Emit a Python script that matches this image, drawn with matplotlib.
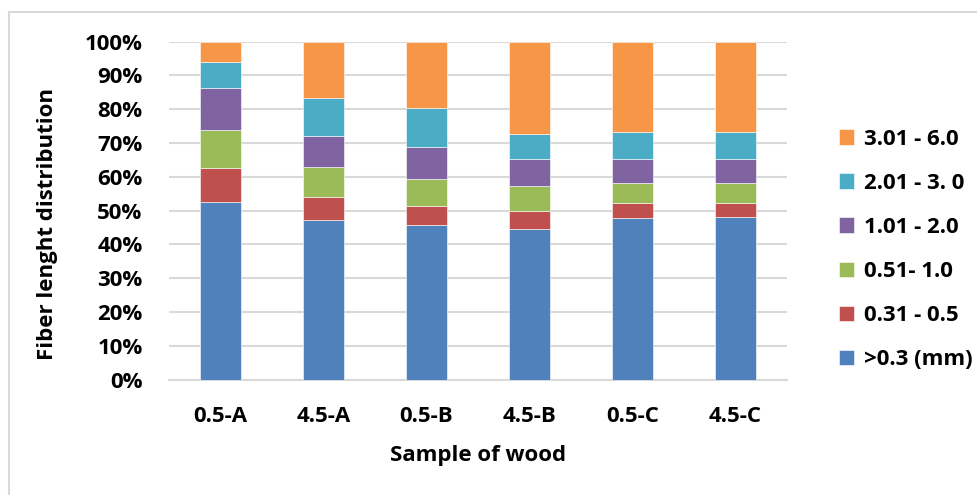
import matplotlib.pyplot as plt
from matplotlib.patches import Rectangle
from matplotlib.ticker import PercentFormatter

plt.rcParams['font.family'] = ['Open Sans', 'DejaVu Sans']
plt.rcParams['font.weight'] = 'bold'

samples = ["0.5-A", "4.5-A", "0.5-B", "4.5-B", "0.5-C", "4.5-C"]
labels = [">0.3 (mm)", "0.31 - 0.5", "0.51- 1.0", "1.01 - 2.0", "2.01 - 3. 0", "3.01 - 6.0"]
colors = ["#4F81BD", "#C0504D", "#9BBB59", "#8064A2", "#4BACC6", "#F79646"]

# percent share of each length class, per sample
lt03 = [52.4, 47.3, 45.8, 44.7, 47.9, 48.1]
f031_05 = [10.2, 6.8, 5.6, 5.1, 4.4, 4.2]
f051_10 = [11.2, 8.8, 7.9, 7.4, 5.8, 5.8]
f101_20 = [12.4, 9.2, 9.6, 8.2, 7.3, 7.3]
f201_30 = [7.9, 11.3, 11.5, 7.3, 7.9, 7.9]
f301_60 = [5.9, 16.6, 19.6, 27.3, 26.7, 26.7]
series = [lt03, f031_05, f051_10, f101_20, f201_30, f301_60]

fig = plt.figure(figsize=(9.77, 4.95), dpi=100)
ax = fig.add_axes([169 / 977, 1 - 379.5 / 495, 618 / 977, 337.8 / 495])

# chart area border
fig.patches.append(Rectangle((9 / 977, -0.1), 1.2, 1 - 12 / 495 + 0.1,
                             transform=fig.transFigure, fill=False,
                             edgecolor="#D9D9D9", linewidth=1.5))

x = range(len(samples))
bottom = [0] * len(samples)
handles = []
for vals, lab, col in zip(series, labels, colors):
    b = ax.bar(x, vals, 0.4, bottom=bottom, color=col, label=lab,
               edgecolor="white", linewidth=0.4, zorder=3)
    handles.append(b)
    bottom = [p + q for p, q in zip(bottom, vals)]

ax.set_ylim(0, 100)
ax.set_xlim(-0.5, len(samples) - 0.5)
ax.set_yticks(range(0, 101, 10))
ax.yaxis.set_major_formatter(PercentFormatter(decimals=0))
ax.grid(axis="y", color="#D9D9D9", linewidth=1.5, zorder=0)
for s in ["top", "right", "left"]:
    ax.spines[s].set_visible(False)
ax.spines["bottom"].set_color("#D9D9D9")
ax.spines["bottom"].set_linewidth(1.5)
ax.tick_params(axis="both", length=0, labelsize=16)
ax.tick_params(axis="y", pad=19)
ax.tick_params(axis="x", pad=19)
ax.set_xticks(list(x))
ax.set_xticklabels(samples)

ax.set_xlabel("Sample of wood", fontsize=16, fontweight="bold", labelpad=13)
ax.set_ylabel("Fiber lenght distribution", fontsize=16, fontweight="bold",
              labelpad=19, y=0.46)

ax.legend(handles[::-1], labels[::-1], loc="center left",
          bbox_to_anchor=(1.052, 0.385), frameon=False, fontsize=16,
          handlelength=0.68, handleheight=0.68, labelspacing=1.04,
          handletextpad=0.45)

fig.savefig("out.png", dpi=100)
